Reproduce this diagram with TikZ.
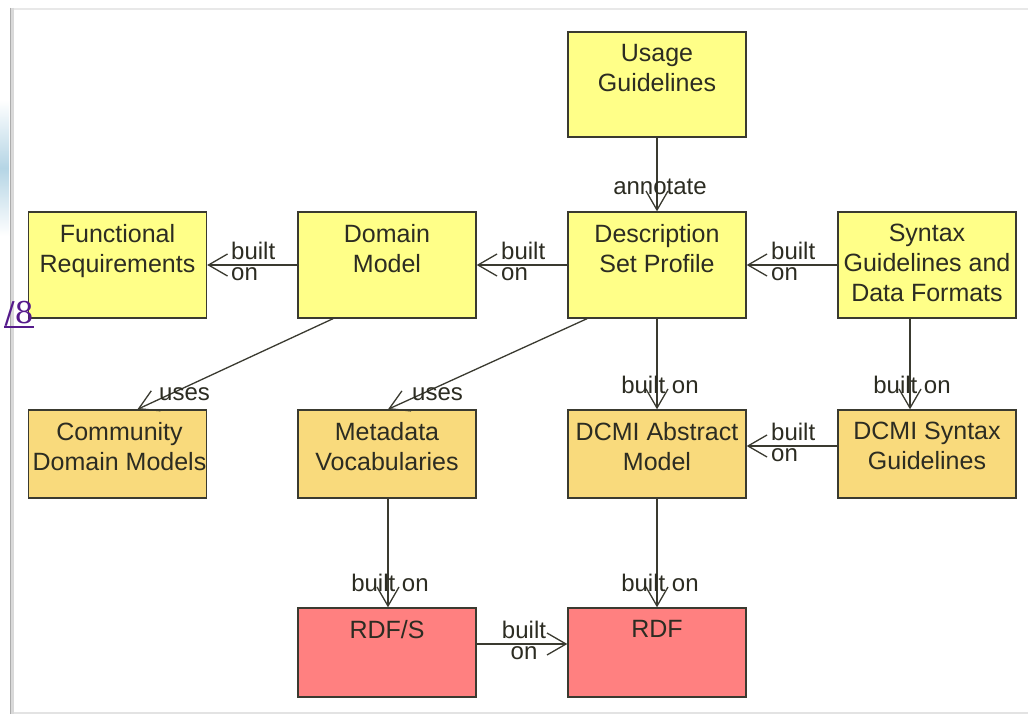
\documentclass[tikz,border=0pt]{standalone}
\usepackage{fontspec}
\setmainfont{Liberation Sans}
\newfontfamily\linkfont{DejaVu Serif}
\usetikzlibrary{arrows.meta}
\definecolor{yel}{HTML}{FFFF88}
\definecolor{org}{HTML}{F9DA7C}
\definecolor{rdfred}{HTML}{FF8080}
\definecolor{edgecol}{HTML}{3A3A30}
\definecolor{ink}{HTML}{2C2C22}
\definecolor{linkpurple}{HTML}{551A8B}
\definecolor{patch}{HTML}{B5D5E5}
\begin{document}
\begin{tikzpicture}[x=1pt,y=-1pt,
  box/.style={rectangle, draw=edgecol, line width=1.4pt, inner sep=0pt, minimum width=178pt},
  tall/.style={box, minimum height=106pt},
  short/.style={box, minimum height=88pt},
  txt/.style={anchor=north, align=center, inner sep=0pt, text=ink, font=\fontsize{25}{30}\selectfont},
  lbl/.style={inner sep=0pt, text=ink, font=\fontsize{24}{20.5}\selectfont},
  arr/.style={draw=edgecol, line width=1.3pt, -{Straight Barb[length=19pt,width=22pt,line width=1.3pt]}}
]
% page / frame
\useasboundingbox (0,0) rectangle (1028,714);
\fill[white] (0,0) rectangle (1028,714);
\shade[top color=white, bottom color=white, middle color=patch] (0,100) rectangle (9,236);
\draw[gray!18, line width=2pt] (11,9) -- (1028,9);
\draw[gray!22, line width=1.5pt] (11,713) -- (1028,713);
\draw[gray!30, line width=3pt] (12,8) -- (12,714);
\draw[gray!65, line width=1pt] (10.5,8) -- (10.5,714);

% boxes
\node[box, fill=yel, minimum height=105pt] (ug)  at (657,84.5) {};
\node[tall, fill=yel] (fr)  at (117.5,265) {};
\node[tall, fill=yel] (dm)  at (387,265) {};
\node[tall, fill=yel] (dsp) at (657,265) {};
\node[tall, fill=yel] (sg)  at (927,265) {};
\node[short, fill=org] (cdm) at (117.5,454) {};
\node[short, fill=org] (mv)  at (387,454) {};
\node[short, fill=org] (dam) at (657,454) {};
\node[short, fill=org] (dsg) at (927,454) {};
\node[box, fill=rdfred, minimum height=89pt] (rdfs) at (387,652.5) {};
\node[box, fill=rdfred, minimum height=89pt] (rdf)  at (657,652.5) {};

% box texts
\node[txt] (ugt)   at ([yshift=-12.5pt]ug.north)  {Usage\\Guidelines};
\node[txt] (frt)   at ([yshift=-12.5pt]fr.north)  {Functional\\Requirements};
\node[txt] (dmt)   at ([yshift=-12.5pt]dm.north)  {Domain\\Model};
\node[txt] (dspt)  at ([yshift=-12.5pt]dsp.north) {Description\\Set Profile};
\node[txt] (sgt)   at ([yshift=-12.5pt]sg.north)  {Syntax\\Guidelines and\\Data Formats};
\node[txt] (cdmt)  at ([shift={(2pt,-13pt)}]cdm.north) {Community\\Domain Models};
\node[txt] (mvt)   at ([yshift=-13pt]mv.north)    {Metadata\\Vocabularies};
\node[txt] (damt)  at ([yshift=-13pt]dam.north)   {DCMI Abstract\\Model};
\node[txt] (dsgt)  at ([yshift=-13pt]dsg.north)   {DCMI Syntax\\Guidelines};
\node[txt] (rdfst) at ([yshift=-13pt]rdfs.north)  {RDF/S};
\node[txt] (rdft)  at ([yshift=-13pt]rdf.north)   {RDF};

% connectors
\draw[arr] (ug) -- (dsp);
\draw[arr] (dm) -- (fr);
\draw[arr] (dsp) -- (dm);
\draw[arr] (sg) -- (dsp);
\draw[arr] (dsp) -- (dam);
\draw[arr] (sg.south -| 910,0) -- (dsg.north -| 910,0);
\draw[arr] (dsg.west |- 0,446) -- (dam.east |- 0,446);
\draw[arr] ([xshift=-54pt]dm.south) -- ([xshift=20pt]cdm.north);
\draw[arr] ([xshift=-70pt]dsp.south) -- ([xshift=1pt]mv.north);
\draw[arr] ([xshift=1pt]mv.south) -- ([xshift=1pt]rdfs.north);
\draw[arr] (dam) -- (rdf);
\draw[arr] (rdfs.east |- 0,644) -- (rdf.west |- 0,644);

% connector labels
\node[lbl, anchor=base] (l1) at (660,195) {annotate};
\node[lbl, anchor=north west, align=left] (l2) at (231,242) {built\\ on};
\node[lbl, anchor=north west, align=left] (l3) at (501,242) {built\\ on};
\node[lbl, anchor=north west, align=left] (l4) at (771,242) {built\\ on};
\node[lbl, anchor=base] (l5) at (660,393) {built on};
\node[lbl, anchor=base] (l6) at (912,393) {built on};
\node[lbl, anchor=north west, align=left] (l7) at (771,423) {built\\ on};
\node[lbl, anchor=base west] (l8) at (159,400) {uses};
\node[lbl, anchor=base west] (l9) at (412,400) {uses};
\node[lbl, anchor=base] (l10) at (390,591) {built on};
\node[lbl, anchor=base] (l11) at (660,591) {built on};
\node[lbl, anchor=north, align=center] (l12) at (524,621) {built\\on};

% link fragment at the left edge
\node[anchor=base east, inner sep=0pt, text=linkpurple, font=\linkfont\fontsize{30}{30}\selectfont] (pg) at (34,323) {/8};
\draw[linkpurple, line width=1.2pt] ([yshift=-4pt]pg.base west) -- ([yshift=-4pt]pg.base east);
\end{tikzpicture}
\end{document}
